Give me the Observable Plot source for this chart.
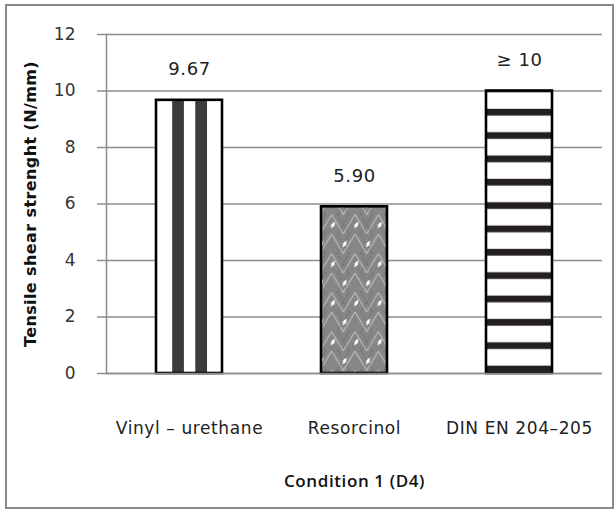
<!DOCTYPE html>
<html>
<head>
<meta charset="utf-8">
<script src="https://cdn.jsdelivr.net/npm/d3@7"></script>
<script src="https://cdn.jsdelivr.net/npm/@observablehq/plot@0.6"></script>
<style>
  html, body { margin: 0; padding: 0; background: #fff; }
  #wrap { position: relative; width: 614px; height: 509px; }
  #border { position: absolute; left: 5px; top: 4px; width: 609px; height: 505px;
            box-sizing: border-box; border: 2px solid #8a8a8a; pointer-events: none; }
  #chart { position: absolute; left: 0; top: 0; }
</style>
</head>
<body>
<div id="wrap">
  <div id="chart"></div>
  <div id="border"></div>
</div>
<script>
// Adhesive shear strength, condition 1 (D4)
const categories = ["Vinyl – urethane", "Resorcinol", "DIN EN 204–205"];
const values = [9.67, 5.90, 10];
const valueLabels = ["9.67", "5.90", "≥ 10"];
const patterns = ["url(#vstripes)", "url(#weave)", "url(#hstripes)"];
const yTicks = [0, 2, 4, 6, 8, 10, 12];

const rows = categories.map((c, i) => ({category: c, value: values[i], label: valueLabels[i], fill: patterns[i]}));

const gray = "#8c8c8c";
const font = "DejaVu Sans";

// SVG pattern fills for the three bars
function defs() {
  const d = d3.create("svg:defs");

  // vertical stripes, laid out across the bar's own bounding box
  const v = d.append("pattern").attr("id", "vstripes")
    .attr("patternUnits", "objectBoundingBox").attr("patternContentUnits", "objectBoundingBox")
    .attr("width", 1).attr("height", 1);
  v.append("rect").attr("width", 1).attr("height", 1).attr("fill", "#fff");
  [0.245, 0.595].forEach(x0 =>
    v.append("rect").attr("x", x0).attr("y", 0).attr("width", 0.178).attr("height", 1).attr("fill", "#3c3c3c"));

  // horizontal stripes, tiled from the top of the bar
  const h = d.append("pattern").attr("id", "hstripes")
    .attr("patternUnits", "objectBoundingBox").attr("width", 1).attr("height", 1 / 12.1);
  h.append("rect").attr("width", 200).attr("height", 23.3).attr("fill", "#fff");
  h.append("rect").attr("y", 0).attr("width", 200).attr("height", 1.7).attr("fill", "#231f20");
  h.append("rect").attr("y", 18.3).attr("width", 200).attr("height", 5.1).attr("fill", "#231f20");

  // woven texture: grey ground, light chevrons, white grains
  const w = d.append("pattern").attr("id", "weave")
    .attr("patternUnits", "userSpaceOnUse").attr("width", 23.4).attr("height", 39)
    .attr("x", 4).attr("y", 0);
  w.append("rect").attr("width", 23.4).attr("height", 39).attr("fill", "#868686");
  w.append("path").attr("d", "M0,0 L11.7,19.5 L23.4,0 M0,19.5 L11.7,39 L23.4,19.5")
    .attr("fill", "none").attr("stroke", "#b8b8b8").attr("stroke-width", 1.2);
  w.append("path").attr("d", "M5.85,0 L17.55,19.5 M5.85,19.5 L17.55,39 M17.55,0 L5.85,19.5 M17.55,19.5 L5.85,39")
    .attr("fill", "none").attr("stroke", "#5e5e5e").attr("stroke-width", 0.8).attr("stroke-dasharray", "1.5 1.5");
  const grain = (cx, cy) => w.append("path")
    .attr("d", `M${cx},${cy - 4} L${cx + 1.8},${cy} L${cx},${cy + 4} L${cx - 1.8},${cy} Z`)
    .attr("transform", `rotate(30 ${cx} ${cy})`).attr("fill", "#fff");
  grain(13, 10); grain(1.3, 30); grain(24.7, 30);
  return d.node();
}

const chart = Plot.plot({
  width: 614,
  height: 509,
  marginLeft: 106,
  marginRight: 12,
  marginTop: 34,
  marginBottom: 136,
  style: {fontFamily: font, background: "transparent"},
  x: {domain: categories, paddingInner: 0.6, paddingOuter: 0.3},
  y: {domain: [0, 12]},
  color: {type: "identity"},
  marks: [
    defs,
    Plot.gridY(yTicks, {stroke: gray, strokeOpacity: 1, strokeWidth: 1.5}),
    Plot.axisY(yTicks, {
      tickSize: 9, tickPadding: 22, stroke: gray, strokeWidth: 1.5,
      fill: "#333", fontSize: 17, tickFormat: d => String(d),
      label: "Tensile shear strenght (N/mm)", labelAnchor: "center", labelArrow: "none", labelOffset: 82
    }),
    Plot.axisX({
      tickSize: 0, tickPadding: 48, fill: "#222", fontSize: 17,
      label: "Condition 1 (D4)", labelAnchor: "center", labelArrow: "none", labelOffset: 113
    }),
    Plot.frame({anchor: "left", stroke: gray, strokeWidth: 1.5}),
    Plot.barY(rows, {x: "category", y: "value", fill: d => d.fill, stroke: "#000", strokeWidth: 2.6}),
    Plot.ruleY([0], {stroke: gray, strokeWidth: 1.5}),
    Plot.text(rows, {x: "category", y: "value", text: "label", dy: -31, fontSize: 18, fill: "#222"})
  ]
});

// letter spacing for the category and value labels
d3.select(chart).selectAll("g[aria-label='x-axis tick label'] text, g[aria-label='text'] text")
  .style("letter-spacing", "0.6px");
// axis titles: bold, dark
d3.select(chart).selectAll("g[aria-label='y-axis label'] text")
  .style("font-weight", "bold").style("font-size", "16px").style("letter-spacing", "0.4px").attr("fill", "#111");
d3.select(chart).selectAll("g[aria-label='x-axis label'] text")
  .style("font-weight", "600").style("font-size", "17px").style("font-family", "Open Sans")
  .style("letter-spacing", "0.6px").attr("fill", "#111");

document.getElementById("chart").append(chart);
</script>
</body>
</html>
